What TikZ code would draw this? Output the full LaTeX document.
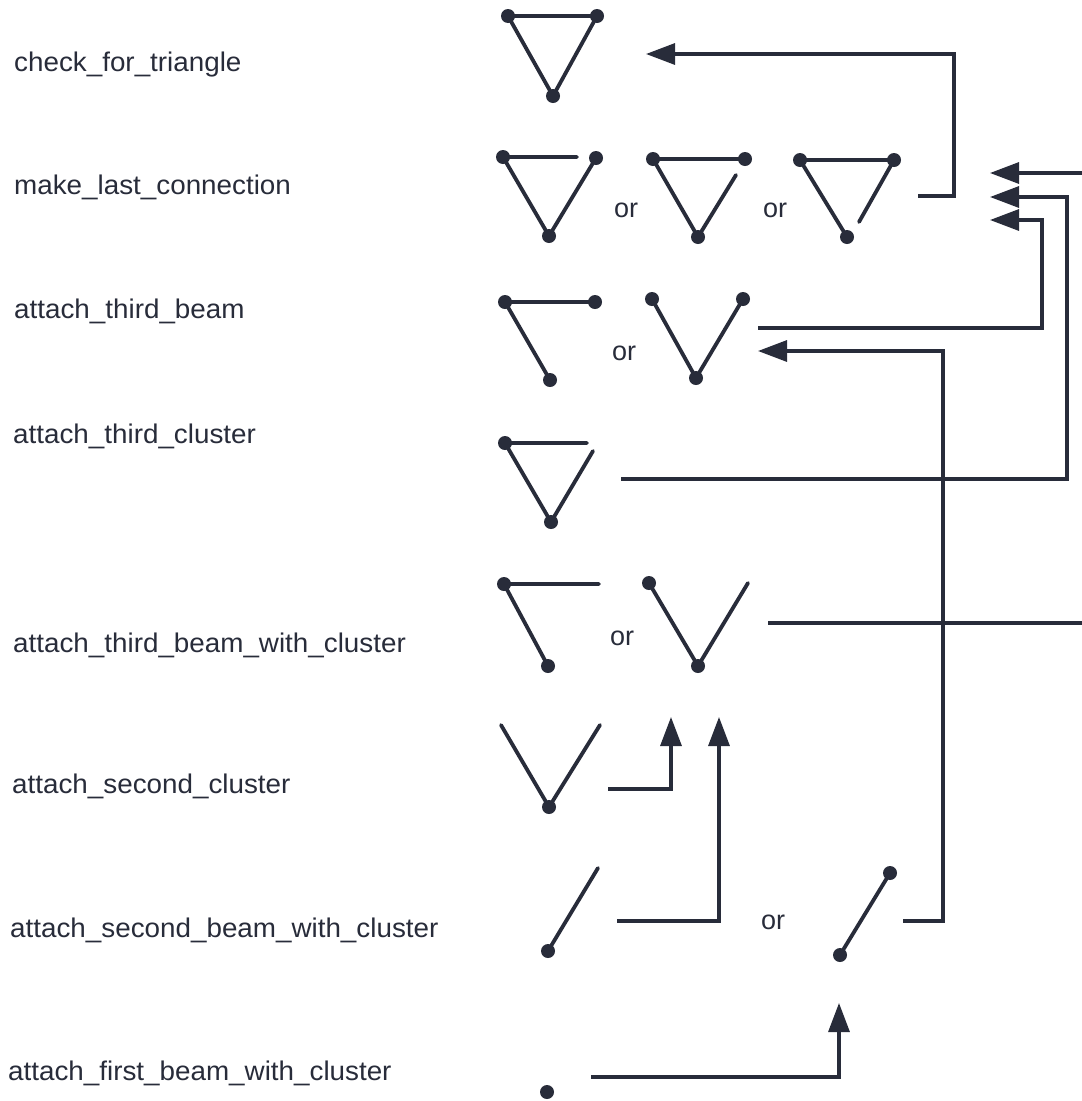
\documentclass[tikz,border=0pt]{standalone}
\usepackage{fontspec}
\usepackage{graphicx}
\setmainfont{Liberation Sans}
\usetikzlibrary{arrows.meta}
\definecolor{ink}{RGB}{40,44,58}
\newcommand{\jdot}[1]{\fill[ink] (#1) circle[radius=7pt];}
\newcommand{\lbltxt}[1]{\scalebox{1.03}[1]{#1}}
\begin{document}
\begin{tikzpicture}[x=1pt,y=-1pt,
  lbl/.style={anchor=base west, inner sep=0pt, font=\fontsize{27}{32}\selectfont, text=ink},
  ortext/.style={anchor=center, inner sep=0pt, font=\fontsize{27}{32}\selectfont, text=ink},
  beam/.style={draw=ink, line width=3.8pt, line cap=round, line join=round},
  conn/.style={draw=ink, line width=3.2pt, line join=miter},
  arr/.style={conn, -{Triangle[length=29pt,width=21pt]}}]
\useasboundingbox[fill=white] (0,0) rectangle (1082,1101);

% ---------- labels ----------
\node[lbl] (l1) at (14,71)   {\lbltxt{check\_for\_triangle}};
\node[lbl] (l2) at (14,194)  {\lbltxt{make\_last\_connection}};
\node[lbl] (l3) at (14,318)  {\lbltxt{attach\_third\_beam}};
\node[lbl] (l4) at (13,443)  {\lbltxt{attach\_third\_cluster}};
\node[lbl] (l5) at (13,652)  {\lbltxt{attach\_third\_beam\_with\_cluster}};
\node[lbl] (l6) at (12,793)  {\lbltxt{attach\_second\_cluster}};
\node[lbl] (l7) at (10,937)  {\lbltxt{attach\_second\_beam\_with\_cluster}};
\node[lbl] (l8) at (8,1080)  {\lbltxt{attach\_first\_beam\_with\_cluster}};

% ---------- "or" labels ----------
\node[ortext] (or1) at (626,210) {or};
\node[ortext] (or2) at (775,210) {or};
\node[ortext] (or3) at (624,353) {or};
\node[ortext] (or4) at (622,638) {or};
\node[ortext] (or5) at (773,922) {or};

% ---------- row 1: full triangle ----------
\coordinate (t1a) at (508,16); \coordinate (t1b) at (597,16); \coordinate (t1c) at (553,96);
\draw[beam] (t1a) -- (t1b) -- (t1c) -- cycle;
\jdot{t1a}\jdot{t1b}\jdot{t1c}

% ---------- row 2 ----------
\coordinate (t2a) at (503,157); \coordinate (t2b) at (596,158); \coordinate (t2c) at (549,236);
\coordinate (t2g) at (577,157);
\draw[beam] (t2g) -- (t2a) -- (t2c) -- (t2b);
\jdot{t2a}\jdot{t2b}\jdot{t2c}

\coordinate (t3a) at (653,159); \coordinate (t3b) at (745,159); \coordinate (t3c) at (698,237);
\coordinate (t3g) at (736,175);
\draw[beam] (t3b) -- (t3a) -- (t3c) -- (t3g);
\jdot{t3a}\jdot{t3b}\jdot{t3c}

\coordinate (t4a) at (800,160); \coordinate (t4b) at (894,160); \coordinate (t4c) at (847,237);
\coordinate (t4g) at (859,222);
\draw[beam] (t4c) -- (t4a) -- (t4b) -- (t4g);
\jdot{t4a}\jdot{t4b}\jdot{t4c}

% ---------- row 3 ----------
\coordinate (g1a) at (505,302); \coordinate (g1b) at (595,302); \coordinate (g1c) at (550,380);
\draw[beam] (g1b) -- (g1a) -- (g1c);
\jdot{g1a}\jdot{g1b}\jdot{g1c}

\coordinate (v1a) at (652,299); \coordinate (v1b) at (743,299); \coordinate (v1c) at (696,378);
\draw[beam] (v1a) -- (v1c) -- (v1b);
\jdot{v1a}\jdot{v1b}\jdot{v1c}

% ---------- row 4 ----------
\coordinate (t5a) at (505,443); \coordinate (t5g) at (587,443);
\coordinate (t5h) at (593,451); \coordinate (t5c) at (551,522);
\draw[beam] (t5g) -- (t5a) -- (t5c) -- (t5h);
\jdot{t5a}\jdot{t5c}

% ---------- row 5 ----------
\coordinate (g2a) at (504,584); \coordinate (g2b) at (599,584); \coordinate (g2c) at (548,666);
\draw[beam] (g2b) -- (g2a) -- (g2c);
\jdot{g2a}\jdot{g2c}

\coordinate (v2a) at (649,583); \coordinate (v2b) at (748,583); \coordinate (v2c) at (698,666);
\draw[beam] (v2a) -- (v2c) -- (v2b);
\jdot{v2a}\jdot{v2c}

% ---------- row 6 ----------
\coordinate (v3a) at (501,725); \coordinate (v3b) at (600,725); \coordinate (v3c) at (549,807);
\draw[beam] (v3a) -- (v3c) -- (v3b);
\jdot{v3c}

% ---------- row 7 ----------
\coordinate (b1a) at (548,951); \coordinate (b1b) at (598,868);
\draw[beam] (b1a) -- (b1b);
\jdot{b1a}

\coordinate (b2a) at (840,955); \coordinate (b2b) at (890,873);
\draw[beam] (b2a) -- (b2b);
\jdot{b2a}\jdot{b2b}

% ---------- row 8 ----------
\coordinate (p1) at (547,1092);
\jdot{p1}

% ---------- connectors ----------
\coordinate (a1s) at (918,196);  \coordinate (a1e) at (646,54);
\draw[arr] (a1s) -- ++(36,0) |- (a1e);

\coordinate (a2s) at (1082,173); \coordinate (a2e) at (990,173);
\draw[arr] (a2s) -- (a2e);

\coordinate (a3s) at (621,479);  \coordinate (a3e) at (990,197);
\draw[arr] (a3s) -- ++(446,0) |- (a3e);

\coordinate (a4s) at (758,328);  \coordinate (a4e) at (990,220);
\draw[arr] (a4s) -- ++(284,0) |- (a4e);

\coordinate (a5s) at (903,921);  \coordinate (a5e) at (758,351);
\draw[arr] (a5s) -- ++(40,0) |- (a5e);

\coordinate (a6s) at (768,623);  \coordinate (a6e) at (1082,623);
\draw[conn] (a6s) -- (a6e);

\coordinate (a7s) at (608,789);  \coordinate (a7e) at (671,717);
\draw[arr] (a7s) -| (a7e);

\coordinate (a8s) at (617,921);  \coordinate (a8e) at (719,717);
\draw[arr] (a8s) -| (a8e);

\coordinate (a9s) at (591,1077); \coordinate (a9e) at (839,1003);
\draw[arr] (a9s) -| (a9e);
\end{tikzpicture}
\end{document}
